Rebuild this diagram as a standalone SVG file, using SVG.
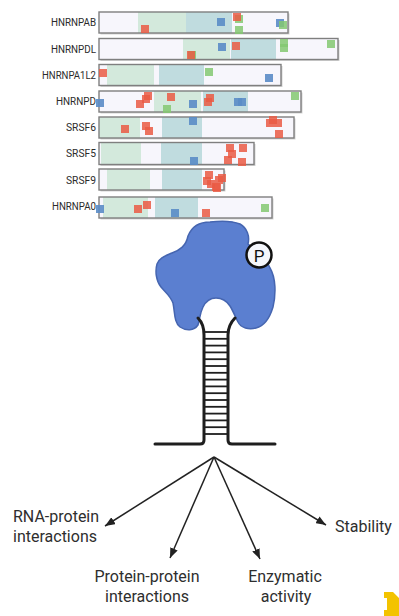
<svg xmlns="http://www.w3.org/2000/svg" xmlns:xlink="http://www.w3.org/1999/xlink" width="399" height="616" viewBox="0 0 399 616">
  <style>
    .lbl { font-family: Roboto, "Liberation Sans", Arial, sans-serif; font-size: 10px; fill: #2b2b2b; text-anchor: end; }
    .cap { font-family: Roboto, "Liberation Sans", Arial, sans-serif; font-size: 16px; fill: #2e2e2e; }
    .lav { fill: #f7f6fc; }
    .grn { fill: #d3e9dc; }
    .tea { fill: #c0dcdf; }
    .shd { fill: #d4d4d4; }
    .frm { fill: none; stroke: #7f7f7f; stroke-width: 1.4; }
    .r { fill: #ea5a44; opacity: 0.85; }
    .b { fill: #5a8cc6; opacity: 0.9; }
    .g { fill: #84c871; opacity: 0.85; }
    .ink { fill: none; stroke: #1e1e1e; stroke-width: 3; stroke-linecap: round; stroke-linejoin: round; }
    .rung { stroke: #1e1e1e; stroke-width: 1.8; }
    .arr { fill: none; stroke: #222; stroke-width: 1.5; marker-end: url(#head); }
  </style>
  <defs>
    <rect id="sq" width="8" height="8"/>
    <marker id="head" viewBox="0 0 10 8" refX="10" refY="4" markerWidth="10" markerHeight="8" markerUnits="userSpaceOnUse" orient="auto">
      <path d="M0,0 L10,4 L0,8 Z" fill="#222"/>
    </marker>
  </defs>

  <rect width="399" height="616" fill="#ffffff"/>

  <!-- domain tracks -->
  <g id="HNRNPAB">
    <rect class="shd" x="100.5" y="13.5" width="189" height="21"/>
    <rect class="lav" x="99" y="12" width="189" height="21"/>
    <rect class="grn" x="138" y="12" width="48" height="21"/>
    <rect class="tea" x="186" y="12" width="46" height="21"/>
    <rect class="frm" x="99" y="12" width="189" height="21"/>
    <text class="lbl" x="96" y="26" textLength="45" lengthAdjust="spacingAndGlyphs">HNRNPAB</text>
    <use href="#sq" class="r" x="141" y="25"/>
    <use href="#sq" class="b" x="217" y="18"/>
    <use href="#sq" class="g" x="235" y="15"/>
    <use href="#sq" class="r" x="233" y="13"/>
    <use href="#sq" class="g" x="235" y="26"/>
    <use href="#sq" class="b" x="276" y="19"/>
    <use href="#sq" class="g" x="279" y="21"/>
  </g>

  <g id="HNRNPDL">
    <rect class="shd" x="100.5" y="40" width="239" height="21"/>
    <rect class="lav" x="99" y="38.5" width="239" height="21"/>
    <rect class="grn" x="183" y="38.5" width="47" height="21"/>
    <rect class="tea" x="231" y="38.5" width="45" height="21"/>
    <rect class="frm" x="99" y="38.5" width="239" height="21"/>
    <text class="lbl" x="96" y="52.5" textLength="45" lengthAdjust="spacingAndGlyphs">HNRNPDL</text>
    <use href="#sq" class="g" x="188" y="51"/>
    <use href="#sq" class="r" x="187" y="51"/>
    <use href="#sq" class="b" x="218" y="43"/>
    <use href="#sq" class="r" x="232" y="42"/>
    <use href="#sq" class="g" x="280" y="39"/>
    <use href="#sq" class="g" x="280" y="44"/>
    <use href="#sq" class="g" x="327" y="40"/>
  </g>

  <g id="HNRNPA1L2">
    <rect class="shd" x="100.5" y="66" width="182" height="21"/>
    <rect class="lav" x="99" y="64.5" width="182" height="21"/>
    <rect class="grn" x="107" y="64.5" width="47" height="21"/>
    <rect class="tea" x="159" y="64.5" width="45" height="21"/>
    <rect class="frm" x="99" y="64.5" width="182" height="21"/>
    <text class="lbl" x="96" y="78.5" textLength="54" lengthAdjust="spacingAndGlyphs">HNRNPA1L2</text>
    <use href="#sq" class="r" x="99" y="69"/>
    <use href="#sq" class="g" x="205" y="68"/>
    <use href="#sq" class="b" x="265" y="74"/>
  </g>

  <g id="HNRNPD">
    <rect class="shd" x="100.5" y="92.5" width="202" height="21"/>
    <rect class="lav" x="99" y="91" width="202" height="21"/>
    <rect class="grn" x="154" y="91" width="47" height="21"/>
    <rect class="tea" x="203" y="91" width="45" height="21"/>
    <rect class="frm" x="99" y="91" width="202" height="21"/>
    <text class="lbl" x="96" y="105" textLength="40" lengthAdjust="spacingAndGlyphs">HNRNPD</text>
    <use href="#sq" class="b" x="96" y="99"/>
    <use href="#sq" class="r" x="136" y="100"/>
    <use href="#sq" class="r" x="142" y="95"/>
    <use href="#sq" class="r" x="144" y="92"/>
    <use href="#sq" class="r" x="167" y="93"/>
    <use href="#sq" class="g" x="163" y="105"/>
    <use href="#sq" class="b" x="189" y="100"/>
    <use href="#sq" class="r" x="206" y="94"/>
    <use href="#sq" class="r" x="204" y="98"/>
    <use href="#sq" class="b" x="234" y="98"/>
    <use href="#sq" class="b" x="238" y="98"/>
    <use href="#sq" class="g" x="291" y="92"/>
  </g>

  <g id="SRSF6">
    <rect class="shd" x="100.5" y="118.5" width="195" height="21"/>
    <rect class="lav" x="99" y="117" width="195" height="21"/>
    <rect class="grn" x="99" y="117" width="41" height="21"/>
    <rect class="tea" x="162" y="117" width="40" height="21"/>
    <rect class="frm" x="99" y="117" width="195" height="21"/>
    <text class="lbl" x="96" y="130.5" textLength="30" lengthAdjust="spacingAndGlyphs">SRSF6</text>
    <use href="#sq" class="r" x="121" y="125"/>
    <use href="#sq" class="r" x="142" y="122"/>
    <use href="#sq" class="r" x="145" y="127"/>
    <use href="#sq" class="b" x="189" y="117"/>
    <use href="#sq" class="r" x="269" y="116"/>
    <use href="#sq" class="r" x="266" y="119"/>
    <use href="#sq" class="r" x="274" y="119"/>
    <use href="#sq" class="r" x="275" y="130"/>
  </g>

  <g id="SRSF5">
    <rect class="shd" x="100.5" y="144" width="155" height="22"/>
    <rect class="lav" x="99" y="142.5" width="155" height="22"/>
    <rect class="grn" x="101" y="142.5" width="40" height="22"/>
    <rect class="tea" x="161" y="142.5" width="41" height="22"/>
    <rect class="frm" x="99" y="142.5" width="155" height="22"/>
    <text class="lbl" x="96" y="157" textLength="30" lengthAdjust="spacingAndGlyphs">SRSF5</text>
    <use href="#sq" class="b" x="190" y="157"/>
    <use href="#sq" class="r" x="226" y="144"/>
    <use href="#sq" class="r" x="228" y="150"/>
    <use href="#sq" class="r" x="224" y="156"/>
    <use href="#sq" class="r" x="239" y="144"/>
    <use href="#sq" class="r" x="238" y="158"/>
  </g>

  <g id="SRSF9">
    <rect class="shd" x="100.5" y="170.5" width="125" height="21"/>
    <rect class="lav" x="99" y="169" width="125" height="21"/>
    <rect class="grn" x="107" y="169" width="43" height="21"/>
    <rect class="tea" x="162" y="169" width="40" height="21"/>
    <rect class="frm" x="99" y="169" width="125" height="21"/>
    <text class="lbl" x="96" y="183.5" textLength="30" lengthAdjust="spacingAndGlyphs">SRSF9</text>
    <use href="#sq" class="r" x="205" y="171"/>
    <use href="#sq" class="r" x="203" y="177"/>
    <use href="#sq" class="r" x="207" y="180"/>
    <use href="#sq" class="r" x="212" y="183"/>
    <use href="#sq" class="r" x="215" y="176"/>
    <use href="#sq" class="r" x="218" y="174"/>
    <use href="#sq" class="r" x="213" y="184"/>
  </g>

  <g id="HNRNPA0">
    <rect class="shd" x="100.5" y="198.5" width="173" height="21"/>
    <rect class="lav" x="99" y="197" width="173" height="21"/>
    <rect class="grn" x="103" y="197" width="45" height="21"/>
    <rect class="tea" x="155" y="197" width="43" height="21"/>
    <rect class="frm" x="99" y="197" width="173" height="21"/>
    <text class="lbl" x="96" y="209.5" textLength="44" lengthAdjust="spacingAndGlyphs">HNRNPA0</text>
    <use href="#sq" class="b" x="96" y="205"/>
    <use href="#sq" class="r" x="134" y="205"/>
    <use href="#sq" class="r" x="143" y="201"/>
    <use href="#sq" class="b" x="171" y="209"/>
    <use href="#sq" class="r" x="202" y="209"/>
    <use href="#sq" class="g" x="261" y="204"/>
  </g>

  <!-- RNA-binding protein on a stem-loop -->
  <g id="protein">
    <path d="M188,236 C192,226 201,222 210,222 C218,221 230,220 240,224 C247,228 250,236 248,244
             C256,250 266,258 270,268 C276,278 276,294 273,307 C270,317 264,326 256,328
             C249,330 241,328 238,322 C235,316 233,311 230,306 C226,300 221,298 216,298
             C210,298 206,301 203,307 C200,313 200,318 198,325 C194,331 186,331 180,327
             C174,322 175,313 173,303 C170,295 165,292 161,287 C156,281 155,271 157,264
             C159,258 165,256 172,253 C180,250 186,246 188,236 Z"
          fill="#5b7fd0" stroke="#4565b0" stroke-width="1.5"/>
    <circle cx="259" cy="255" r="12.5" fill="#f5f7fc" stroke="#111" stroke-width="2.5"/>
    <text x="259" y="261.5" text-anchor="middle" font-family="Roboto, 'Liberation Sans', Arial, sans-serif" font-size="17" fill="#111">P</text>
  </g>

  <g id="stem-loop">
    <path class="ink" d="M198,318 C202,322 204,327 204,335 L204,440 Q204,444 200,444 L155,444"/>
    <path class="ink" d="M235,318 C231,322 228,327 228,335 L228,440 Q228,444 232,444 L275,444"/>
    <g class="rung">
      <line x1="204" y1="332" x2="228" y2="332"/>
      <line x1="204" y1="338.8" x2="228" y2="338.8"/>
      <line x1="204" y1="345.6" x2="228" y2="345.6"/>
      <line x1="204" y1="352.4" x2="228" y2="352.4"/>
      <line x1="204" y1="359.2" x2="228" y2="359.2"/>
      <line x1="204" y1="366" x2="228" y2="366"/>
      <line x1="204" y1="372.8" x2="228" y2="372.8"/>
      <line x1="204" y1="379.6" x2="228" y2="379.6"/>
      <line x1="204" y1="386.4" x2="228" y2="386.4"/>
      <line x1="204" y1="393.2" x2="228" y2="393.2"/>
      <line x1="204" y1="400" x2="228" y2="400"/>
      <line x1="204" y1="406.8" x2="228" y2="406.8"/>
      <line x1="204" y1="413.6" x2="228" y2="413.6"/>
      <line x1="204" y1="420.4" x2="228" y2="420.4"/>
      <line x1="204" y1="427.2" x2="228" y2="427.2"/>
      <line x1="204" y1="434" x2="228" y2="434"/>
    </g>
  </g>

  <!-- outcome arrows -->
  <g id="connectors">
    <line class="arr" x1="214" y1="457" x2="105" y2="526"/>
    <line class="arr" x1="214" y1="457" x2="170" y2="558"/>
    <line class="arr" x1="214" y1="457" x2="260" y2="559"/>
    <line class="arr" x1="214" y1="457" x2="326" y2="525"/>
  </g>

  <g id="rna-protein">
    <text class="cap" x="13" y="522">RNA-protein</text>
    <text class="cap" x="13" y="542">interactions</text>
  </g>
  <g id="protein-protein">
    <text class="cap" x="147" y="582" text-anchor="middle">Protein-protein</text>
    <text class="cap" x="147" y="602" text-anchor="middle">interactions</text>
  </g>
  <g id="enzymatic">
    <text class="cap" x="285" y="582" text-anchor="middle">Enzymatic</text>
    <text class="cap" x="286" y="602" text-anchor="middle">activity</text>
  </g>
  <g id="stability">
    <text class="cap" x="335" y="532">Stability</text>
  </g>

  <!-- corner badge -->
  <path d="M384,592 L393,592 L399,598 L399,616 L384,616 L384,610 L387,610 L387,598 L384,598 Z" fill="#f3c300"/>
</svg>
